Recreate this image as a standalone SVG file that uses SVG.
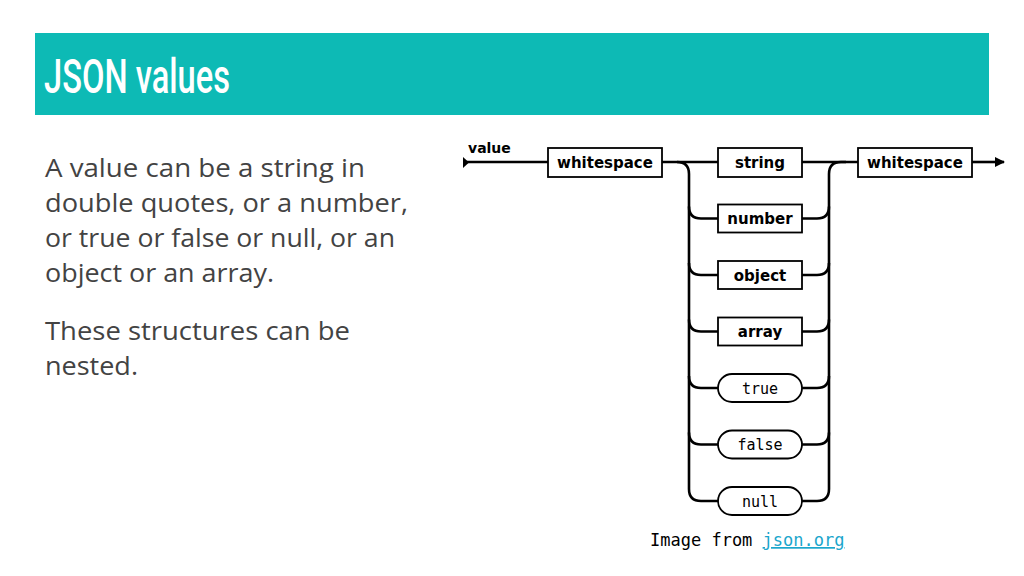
<svg xmlns="http://www.w3.org/2000/svg" width="1024" height="576" viewBox="0 0 1024 576">
<style>
.body{font-family:"Open Sans","Liberation Sans",sans-serif;font-size:25px;fill:#434343}
.box{fill:#fff;stroke:#000;stroke-width:1.8}
.lbl{font-family:"DejaVu Sans","Liberation Sans",sans-serif;font-weight:bold;font-size:15px;fill:#000;text-anchor:middle}
.mono{font-family:"DejaVu Sans Mono","Liberation Mono",monospace;font-size:15px;fill:#000;text-anchor:middle}
.wire{fill:none;stroke:#000;stroke-width:2.6}
</style>
<defs>
<marker id="arr" markerWidth="10" markerHeight="10" refX="9" refY="5" orient="auto" markerUnits="userSpaceOnUse">
<path d="M0,0 L10,5 L0,10 Z" fill="#000"/>
</marker>
</defs>
<rect width="1024" height="576" fill="#fff"/>
<g id="title">
<rect x="35" y="33" width="954" height="82" fill="#0dbab5"/>
<text x="44" y="93" font-family="Roboto,'Liberation Sans',sans-serif" font-weight="500" font-size="48" fill="#fff" textLength="186" lengthAdjust="spacingAndGlyphs">JSON values</text>
</g>
<g id="body-text">
<text class="body" x="45" y="177" textLength="320" lengthAdjust="spacingAndGlyphs">A value can be a string in</text>
<text class="body" x="45" y="212" textLength="363" lengthAdjust="spacingAndGlyphs">double quotes, or a number,</text>
<text class="body" x="45" y="247" textLength="350" lengthAdjust="spacingAndGlyphs">or true or false or null, or an</text>
<text class="body" x="45" y="282" textLength="229" lengthAdjust="spacingAndGlyphs">object or an array.</text>
<text class="body" x="45" y="340" textLength="305" lengthAdjust="spacingAndGlyphs">These structures can be</text>
<text class="body" x="45" y="375" textLength="93" lengthAdjust="spacingAndGlyphs">nested.</text>
</g>
<g id="connectors">
<path class="wire" d="M465,162 L548,162"/>
<path d="M463,157 L469,162.5 L463,168 Z" fill="#000"/>
<path class="wire" d="M662,162 L718,162"/>
<path class="wire" d="M802,162 L858,162"/>
<path class="wire" d="M972,162 L1004,162" marker-end="url(#arr)"/>
<path class="wire" d="M677,162 Q689,162 689,174 L689,489 Q689,501 701,501 L718,501"/>
<path class="wire" d="M689,206.5 Q689,218.5 701,218.5 L718,218.5"/>
<path class="wire" d="M689,263 Q689,275 701,275 L718,275"/>
<path class="wire" d="M689,319.5 Q689,331.5 701,331.5 L718,331.5"/>
<path class="wire" d="M689,376 Q689,388 701,388 L718,388"/>
<path class="wire" d="M689,432.5 Q689,444.5 701,444.5 L718,444.5"/>
<path class="wire" d="M802,501 L817,501 Q829,501 829,489 L829,174 Q829,162 841,162 L846,162"/>
<path class="wire" d="M802,218.5 L817,218.5 Q829,218.5 829,206.5"/>
<path class="wire" d="M802,275 L817,275 Q829,275 829,263"/>
<path class="wire" d="M802,331.5 L817,331.5 Q829,331.5 829,319.5"/>
<path class="wire" d="M802,388 L817,388 Q829,388 829,376"/>
<path class="wire" d="M802,444.5 L817,444.5 Q829,444.5 829,432.5"/>
</g>
<g id="value-label"><text x="468" y="153" font-family="'DejaVu Sans','Liberation Sans',sans-serif" font-weight="bold" font-size="14">value</text></g>
<g id="ws1"><rect class="box" x="548" y="148" width="114" height="29"/><text class="lbl" x="605" y="167.5">whitespace</text></g>
<g id="string"><rect class="box" x="718" y="148" width="84" height="29"/><text class="lbl" x="760" y="167.5">string</text></g>
<g id="number"><rect class="box" x="718" y="204.5" width="84" height="28"/><text class="lbl" x="760" y="224">number</text></g>
<g id="object"><rect class="box" x="718" y="261" width="84" height="28"/><text class="lbl" x="760" y="280.5">object</text></g>
<g id="array"><rect class="box" x="718" y="317.5" width="84" height="28"/><text class="lbl" x="760" y="337">array</text></g>
<g id="true"><rect class="box" x="718" y="374" width="84" height="28" rx="14"/><text class="mono" x="760" y="393.5">true</text></g>
<g id="false"><rect class="box" x="718" y="430.5" width="84" height="28" rx="14"/><text class="mono" x="760" y="450">false</text></g>
<g id="null"><rect class="box" x="718" y="487" width="84" height="28" rx="14"/><text class="mono" x="760" y="506.5">null</text></g>
<g id="ws2"><rect class="box" x="858" y="148" width="114" height="29"/><text class="lbl" x="915" y="167.5">whitespace</text></g>
<g id="caption">
<text x="650" y="546" font-family="'DejaVu Sans Mono','Liberation Mono',monospace" font-size="17" fill="#000">Image from <tspan fill="#1ba6cc" text-decoration="underline">json.org</tspan></text>
</g>
</svg>
